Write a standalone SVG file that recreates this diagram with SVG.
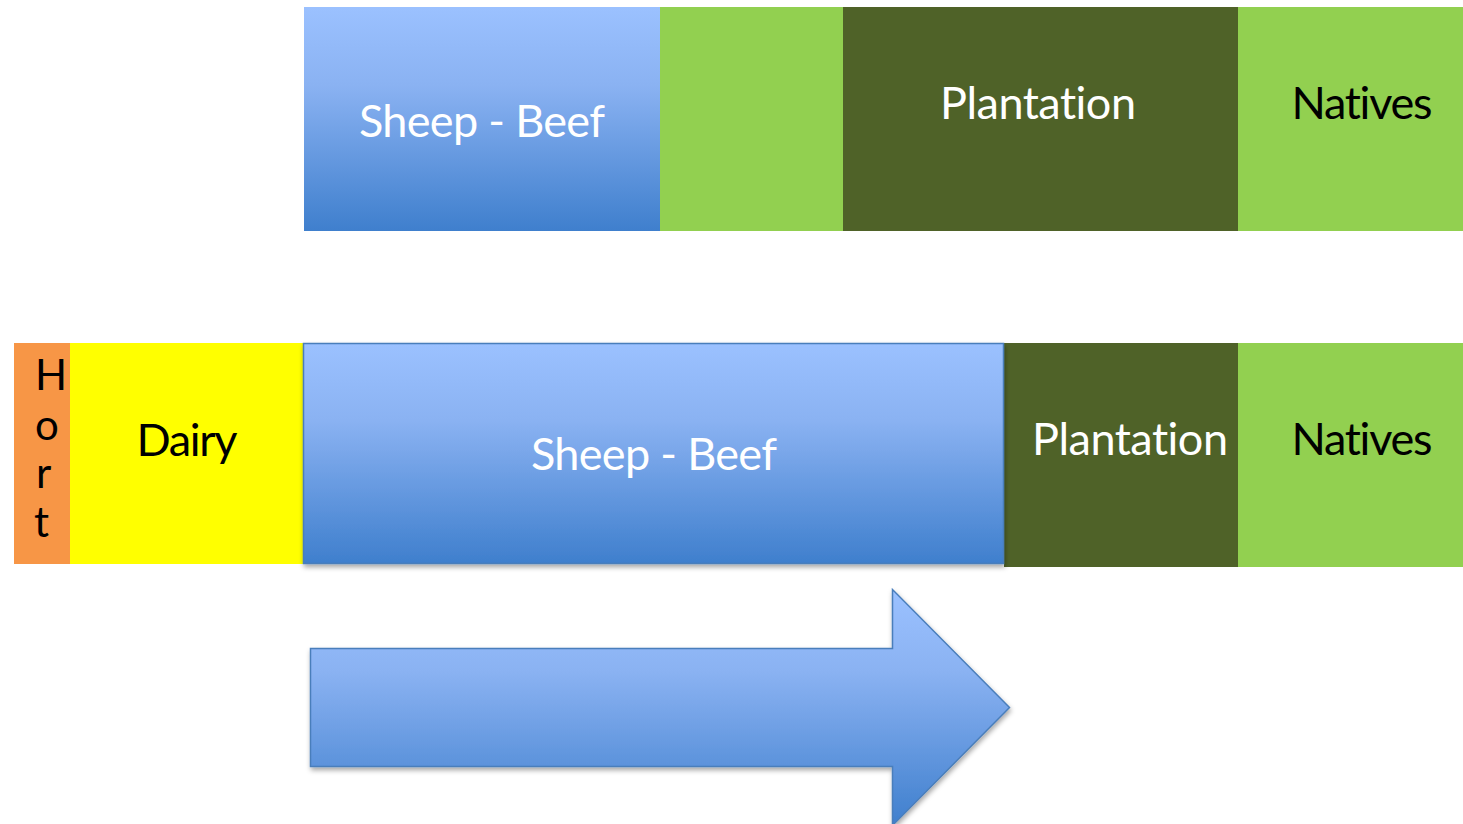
<svg xmlns="http://www.w3.org/2000/svg" width="1463" height="824" viewBox="0 0 1463 824">
<defs>
<linearGradient id="blue" x1="0" y1="0" x2="0" y2="1">
<stop offset="0" stop-color="#9BC1FF"/>
<stop offset="0.35" stop-color="#8AB2F2"/>
<stop offset="1" stop-color="#3F7FCD"/>
</linearGradient>
<filter id="sh" x="-5%" y="-5%" width="110%" height="120%">
<feDropShadow dx="1" dy="3" stdDeviation="2.5" flood-color="#000" flood-opacity="0.35"/>
</filter>
<style>
text{font-family:Lato,"Open Sans","Liberation Sans",sans-serif;font-size:45px;text-anchor:middle;font-variant-ligatures:none;font-feature-settings:"liga" 0}
.w{fill:#FFFFFF}
.k{fill:#000000}
.hort{text-anchor:start;font-size:42px}
</style>
</defs>
<rect width="1463" height="824" fill="#FFFFFF"/>
<g id="top-row">
<g id="top-sheep-beef">
<rect x="304" y="7" width="356" height="224" fill="url(#blue)"/>
<text class="w" x="482" y="137" textLength="246">Sheep - Beef</text>
</g>
<g id="top-green">
<rect x="660" y="7" width="183" height="224" fill="#92D050"/>
</g>
<g id="top-plantation">
<rect x="843" y="7" width="395" height="224" fill="#4F6228"/>
<text class="w" x="1038" y="119" textLength="196">Plantation</text>
</g>
<g id="top-natives">
<rect x="1238" y="7" width="225" height="224" fill="#92D050"/>
<text class="k" x="1362" y="119" textLength="141">Natives</text>
</g>
</g>
<g id="bottom-row">
<g id="hort">
<rect x="14" y="343" width="56" height="221" fill="#F79646"/>
<text class="k hort" x="35" y="390">H</text>
<text class="k hort" x="35" y="440">o</text>
<text class="k hort" x="36" y="488">r</text>
<text class="k hort" x="34" y="537">t</text>
</g>
<g id="dairy">
<rect x="70" y="343" width="234" height="221" fill="#FFFF00"/>
<text class="k" x="187" y="456" textLength="101">Dairy</text>
</g>
<g id="plantation">
<rect x="1004" y="343" width="234" height="224" fill="#4F6228"/>
<text class="w" x="1130" y="455" textLength="196">Plantation</text>
</g>
<g id="natives">
<rect x="1238" y="343" width="225" height="224" fill="#92D050"/>
<text class="k" x="1362" y="455" textLength="141">Natives</text>
</g>
<g id="sheep-beef">
<rect x="303.5" y="343.5" width="700" height="220" fill="url(#blue)" stroke="#4A7EBB" stroke-width="1.5" filter="url(#sh)"/>
<text class="w" x="654" y="470" textLength="246">Sheep - Beef</text>
</g>
</g>
<g id="connectors">
<path id="arrow" d="M310.5,648.5 H892.5 V589.5 L1009.5,707.5 L892.5,825.5 V766.5 H310.5 Z" fill="url(#blue)" stroke="#4A7EBB" stroke-width="1.5" filter="url(#sh)"/>
</g>
</svg>
